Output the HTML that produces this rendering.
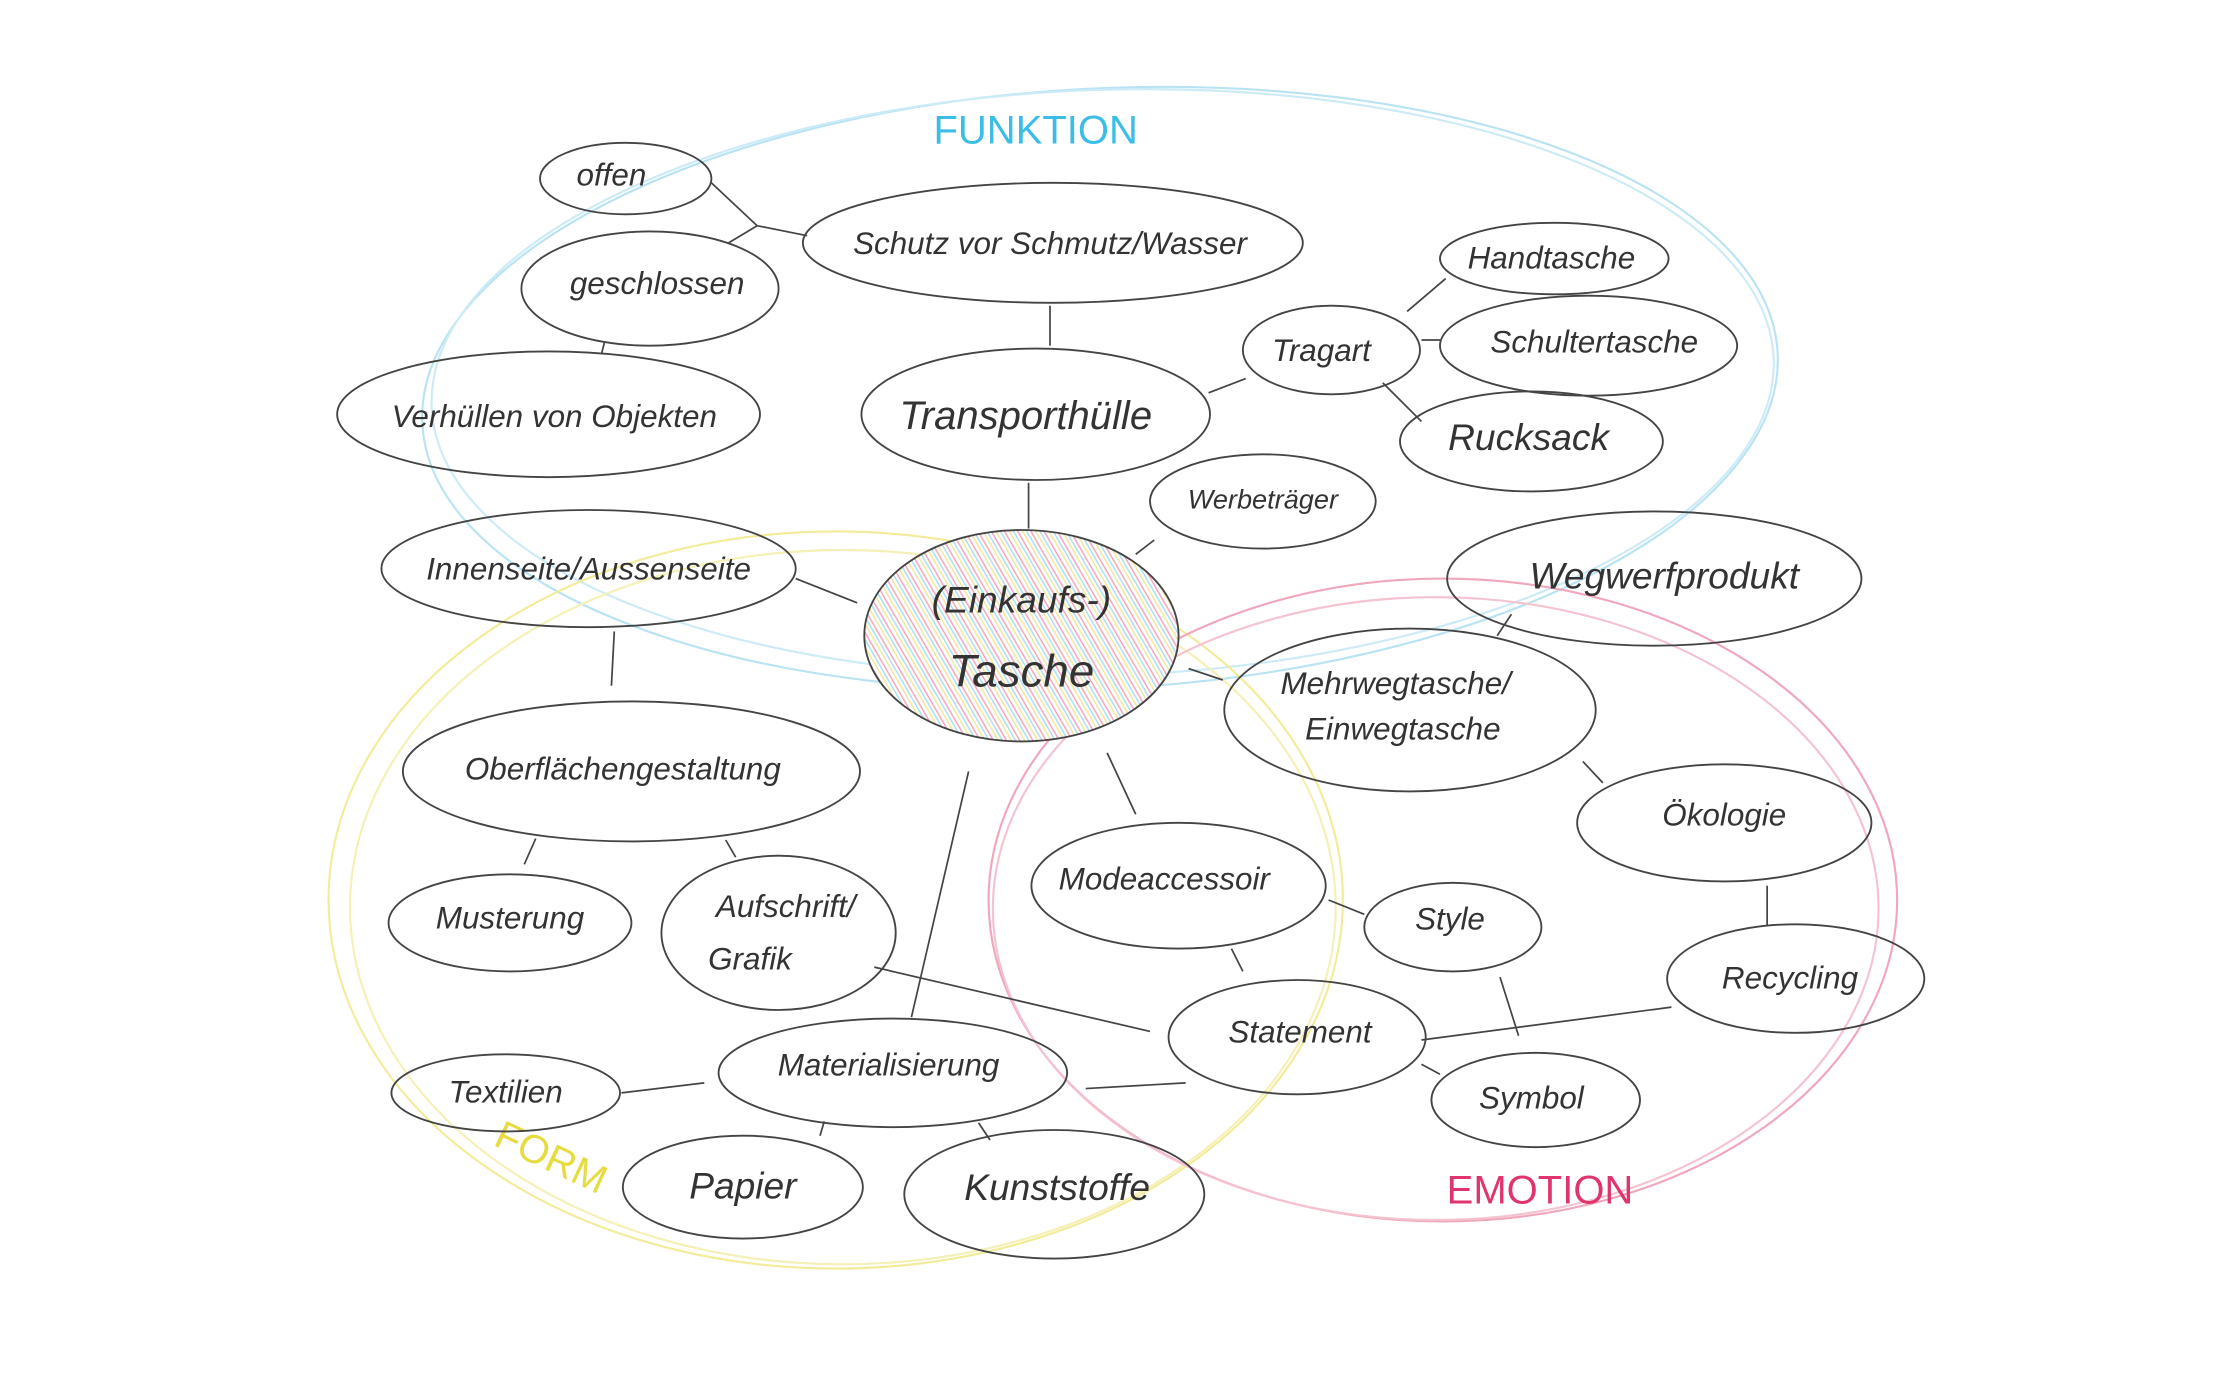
<!DOCTYPE html>
<html><head><meta charset="utf-8"><style>
html,body{margin:0;padding:0;background:#fff;width:2240px;height:1400px;overflow:hidden}
svg{display:block}
text{font-family:"Liberation Sans",sans-serif;font-style:italic;fill:#333;text-anchor:middle;dominant-baseline:middle}
</style></head><body>
<svg width="2240" height="1400" viewBox="0 0 1568 980" xmlns="http://www.w3.org/2000/svg">
<defs>
<pattern id="h" width="8" height="8" patternUnits="userSpaceOnUse" patternTransform="rotate(60)">
<rect width="8" height="8" fill="#fff"/>
<line x1="0" y1="1" x2="8" y2="1" stroke="#f4a0b8" stroke-width="1"/>
<line x1="0" y1="3.5" x2="8" y2="3.5" stroke="#a8dcef" stroke-width="1"/>
<line x1="0" y1="6" x2="8" y2="6" stroke="#f2e59a" stroke-width="1"/>
</pattern>
</defs>
<rect width="1568" height="980" fill="#fff"/>
<!-- category circles -->
<g fill="none" stroke-width="1.5">
<ellipse cx="770" cy="272" rx="475" ry="210" stroke="#b9e3f3" transform="rotate(-3 770 272)"/>
<ellipse cx="772" cy="268" rx="470" ry="205" stroke="#cdebf6" transform="rotate(-2 770 272)"/>
<ellipse cx="585" cy="630" rx="355" ry="258" stroke="#f2ec9a"/>
<ellipse cx="590" cy="635" rx="345" ry="250" stroke="#f5f0b5"/>
<ellipse cx="1010" cy="630" rx="318" ry="225" stroke="#f0a7bb"/>
<ellipse cx="1005" cy="636" rx="310" ry="218" stroke="#f5c2d0"/>
</g>
<text x="725" y="93" style="font-style:normal;font-size:28px;fill:#3cbde6">FUNKTION</text>
<text x="385" y="812" style="font-style:normal;font-size:28px;fill:#e6dc40" transform="rotate(25 385 812)">FORM</text>
<text x="1078" y="835" style="font-style:normal;font-size:28px;fill:#e0356c">EMOTION</text>
<!-- edges -->
<g stroke="#444" stroke-width="1.2" fill="none">
<line x1="498" y1="128" x2="530" y2="158"/><line x1="530" y1="158" x2="565" y2="165"/>
<line x1="510" y1="170" x2="530" y2="158"/>
<line x1="735" y1="214" x2="735" y2="242"/>
<line x1="423" y1="240" x2="421" y2="248"/>
<line x1="846" y1="275" x2="872" y2="265"/>
<line x1="985" y1="218" x2="1012" y2="195"/>
<line x1="995" y1="238" x2="1008" y2="238"/>
<line x1="968" y1="268" x2="995" y2="295"/>
<line x1="720" y1="338" x2="720" y2="370"/>
<line x1="795" y1="388" x2="808" y2="378"/>
<line x1="557" y1="405" x2="600" y2="422"/>
<line x1="430" y1="442" x2="428" y2="480"/>
<line x1="832" y1="468" x2="856" y2="476"/>
<line x1="1058" y1="430" x2="1048" y2="445"/>
<line x1="1108" y1="533" x2="1122" y2="548"/>
<line x1="375" y1="587" x2="367" y2="605"/>
<line x1="508" y1="588" x2="515" y2="600"/>
<line x1="775" y1="527" x2="795" y2="570"/>
<line x1="678" y1="540" x2="638" y2="712"/>
<line x1="930" y1="630" x2="955" y2="640"/>
<line x1="862" y1="664" x2="870" y2="680"/>
<line x1="1050" y1="684" x2="1063" y2="725"/>
<line x1="1237" y1="620" x2="1237" y2="648"/>
<line x1="612" y1="677" x2="805" y2="722"/>
<line x1="995" y1="728" x2="1170" y2="705"/>
<line x1="995" y1="745" x2="1008" y2="752"/>
<line x1="435" y1="765" x2="493" y2="758"/>
<line x1="760" y1="762" x2="830" y2="758"/>
<line x1="577" y1="785" x2="574" y2="795"/>
<line x1="685" y1="786" x2="693" y2="798"/>
</g>
<!-- nodes -->
<g stroke="#444" stroke-width="1.3">
<ellipse cx="715" cy="445" rx="110" ry="74" fill="url(#h)"/>
</g>
<g stroke="#444" stroke-width="1.3" fill="none">
<ellipse cx="438" cy="125" rx="60" ry="25"/>
<ellipse cx="455" cy="202" rx="90" ry="40"/>
<ellipse cx="737" cy="170" rx="175" ry="42"/>
<ellipse cx="384" cy="290" rx="148" ry="44"/>
<ellipse cx="725" cy="290" rx="122" ry="46"/>
<ellipse cx="932" cy="245" rx="62" ry="31"/>
<ellipse cx="1088" cy="181" rx="80" ry="25"/>
<ellipse cx="1112" cy="242" rx="104" ry="35"/>
<ellipse cx="1072" cy="309" rx="92" ry="35"/>
<ellipse cx="884" cy="351" rx="79" ry="33"/>
<ellipse cx="412" cy="398" rx="145" ry="41"/>
<ellipse cx="1158" cy="405" rx="145" ry="47"/>
<ellipse cx="987" cy="497" rx="130" ry="57"/>
<ellipse cx="442" cy="540" rx="160" ry="49"/>
<ellipse cx="1207" cy="576" rx="103" ry="41"/>
<ellipse cx="357" cy="646" rx="85" ry="34"/>
<ellipse cx="545" cy="653" rx="82" ry="54"/>
<ellipse cx="825" cy="620" rx="103" ry="44"/>
<ellipse cx="1017" cy="649" rx="62" ry="31"/>
<ellipse cx="1257" cy="685" rx="90" ry="38"/>
<ellipse cx="908" cy="726" rx="90" ry="40"/>
<ellipse cx="1075" cy="770" rx="73" ry="33"/>
<ellipse cx="354" cy="765" rx="80" ry="27"/>
<ellipse cx="625" cy="751" rx="122" ry="38"/>
<ellipse cx="520" cy="831" rx="84" ry="36"/>
<ellipse cx="738" cy="836" rx="105" ry="45"/>
</g>
<g style="font-size:22px">
<text x="428" y="124">offen</text>
<text x="460" y="200">geschlossen</text>
<text x="735" y="172">Schutz vor Schmutz/Wasser</text>
<text x="388" y="293">Verhüllen von Objekten</text>
<text x="718" y="293" style="font-size:28px">Transporthülle</text>
<text x="925" y="247">Tragart</text>
<text x="1086" y="182">Handtasche</text>
<text x="1116" y="241">Schultertasche</text>
<text x="1070" y="308" style="font-size:26px">Rucksack</text>
<text x="884" y="351" style="font-size:19px">Werbeträger</text>
<text x="412" y="400">Innenseite/Aussenseite</text>
<text x="715" y="422" style="font-size:26px">(Einkaufs-)</text>
<text x="715" y="472" style="font-size:32px">Tasche</text>
<text x="1165" y="405" style="font-size:26px">Wegwerfprodukt</text>
<text x="977" y="480">Mehrwegtasche/</text>
<text x="982" y="512">Einwegtasche</text>
<text x="436" y="540">Oberflächengestaltung</text>
<text x="1207" y="572">Ökologie</text>
<text x="357" y="644">Musterung</text>
<text x="550" y="636">Aufschrift/</text>
<text x="525" y="673">Grafik</text>
<text x="815" y="617">Modeaccessoir</text>
<text x="1015" y="645">Style</text>
<text x="1253" y="686">Recycling</text>
<text x="910" y="724">Statement</text>
<text x="1072" y="770">Symbol</text>
<text x="354" y="766">Textilien</text>
<text x="622" y="747">Materialisierung</text>
<text x="520" y="832" style="font-size:26px">Papier</text>
<text x="740" y="833" style="font-size:26px">Kunststoffe</text>
</g>
</svg>
</body></html>
